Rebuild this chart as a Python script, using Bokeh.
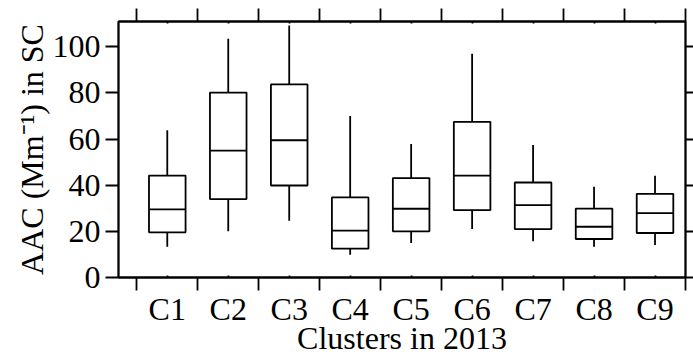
from bokeh.plotting import figure
from bokeh.models import ColumnDataSource, FixedTicker, LinearAxis, Range1d
from bokeh.transform import dodge
from bokeh.embed import file_html
from bokeh.resources import INLINE

clusters = ["C1", "C2", "C3", "C4", "C5", "C6", "C7", "C8", "C9"]
positions = [1, 2, 3, 4, 5, 6, 7, 8, 9]
whisker_low = [13.3, 20.0, 24.6, 9.9, 15.0, 21.0, 15.7, 13.3, 14.1]
q1 = [19.6, 34.0, 39.9, 12.5, 20.0, 29.2, 21.0, 16.7, 19.3]
median = [29.5, 55.0, 59.5, 20.3, 29.8, 44.2, 31.4, 22.0, 27.9]
q3 = [44.2, 80.2, 83.7, 34.7, 43.1, 67.5, 41.2, 29.9, 36.3]
whisker_high = [63.9, 103.5, 109.3, 70.0, 57.9, 97.0, 57.5, 39.4, 44.1]
y_ticks = [0, 20, 40, 60, 80, 100]

src = ColumnDataSource(dict(x=positions, lo=whisker_low, q1=q1, med=median,
                            q3=q3, hi=whisker_high))

FONT = "Liberation Serif"
FS = "32px"
LW = 1.8

p = figure(width=693, height=358, output_backend="svg", toolbar_location=None,
           x_range=Range1d(0.2, 9.5), y_range=Range1d(0, 111),
           min_border_left=118, min_border_right=8, min_border_top=21,
           min_border_bottom=80, x_axis_location=None, y_axis_location=None)
p.xgrid.visible = False
p.ygrid.visible = False
p.outline_line_color = "black"
p.outline_line_width = LW
p.background_fill_color = "white"
p.border_fill_color = "white"

boundaries = [i + 0.5 for i in range(0, 10)]

# bottom axis
bx = LinearAxis(ticker=FixedTicker(ticks=positions, minor_ticks=boundaries),
                axis_label="Clusters in 2013")
bx.major_label_overrides = {pos: c for pos, c in zip(positions, clusters)}
bx.major_tick_in = 2
bx.major_tick_out = 0
bx.minor_tick_in = 0
bx.minor_tick_out = 13
bx.major_label_standoff = 0
bx.axis_label_standoff = -10
p.add_layout(bx, "below")

# top axis (ticks only)
tx = LinearAxis(ticker=FixedTicker(ticks=positions, minor_ticks=boundaries))
tx.major_label_overrides = {pos: "" for pos in positions}
tx.major_label_standoff = 0
tx.major_tick_in = 2
tx.major_tick_out = 0
tx.minor_tick_in = 0
tx.minor_tick_out = 13
p.add_layout(tx, "above")

# left axis
ly = LinearAxis(ticker=FixedTicker(ticks=y_ticks), axis_label="AAC (Mm\u207b\u00b9) in SC")
ly.major_tick_in = 0
ly.major_tick_out = 13
ly.minor_tick_out = 0
ly.major_label_standoff = 5
ly.axis_label_standoff = 0
p.add_layout(ly, "left")

# right axis (ticks only)
ry = LinearAxis(ticker=FixedTicker(ticks=y_ticks))
ry.major_label_overrides = {t: "" for t in y_ticks}
ry.major_label_standoff = 0
ry.major_tick_in = 0
ry.major_tick_out = 8
ry.minor_tick_out = 0
p.add_layout(ry, "right")

for ax in [bx, tx, ly, ry]:
    ax.axis_line_color = "black"
    ax.axis_line_width = LW
    ax.major_tick_line_color = "black"
    ax.major_tick_line_width = LW
    ax.minor_tick_line_color = "black"
    ax.minor_tick_line_width = LW
    ax.major_label_text_font = FONT
    ax.axis_label_text_font = FONT
    ax.axis_label_text_font_style = "normal"
    ax.axis_label_text_color = "black"
    ax.major_label_text_color = "black"
for ax in [bx, ly]:
    ax.major_label_text_font_size = FS
    ax.axis_label_text_font_size = FS

# whiskers
p.segment(x0="x", y0="q3", x1="x", y1="hi", source=src, line_color="black", line_width=LW)
p.segment(x0="x", y0="lo", x1="x", y1="q1", source=src, line_color="black", line_width=LW)
# boxes
p.vbar(x="x", width=0.6, bottom="q1", top="q3", source=src, fill_color="white",
       line_color="black", line_width=LW)
# medians
p.segment(x0=dodge("x", -0.3), y0="med", x1=dodge("x", 0.3), y1="med", source=src,
          line_color="black", line_width=LW)

open("out.html", "w").write(file_html(p, INLINE))
